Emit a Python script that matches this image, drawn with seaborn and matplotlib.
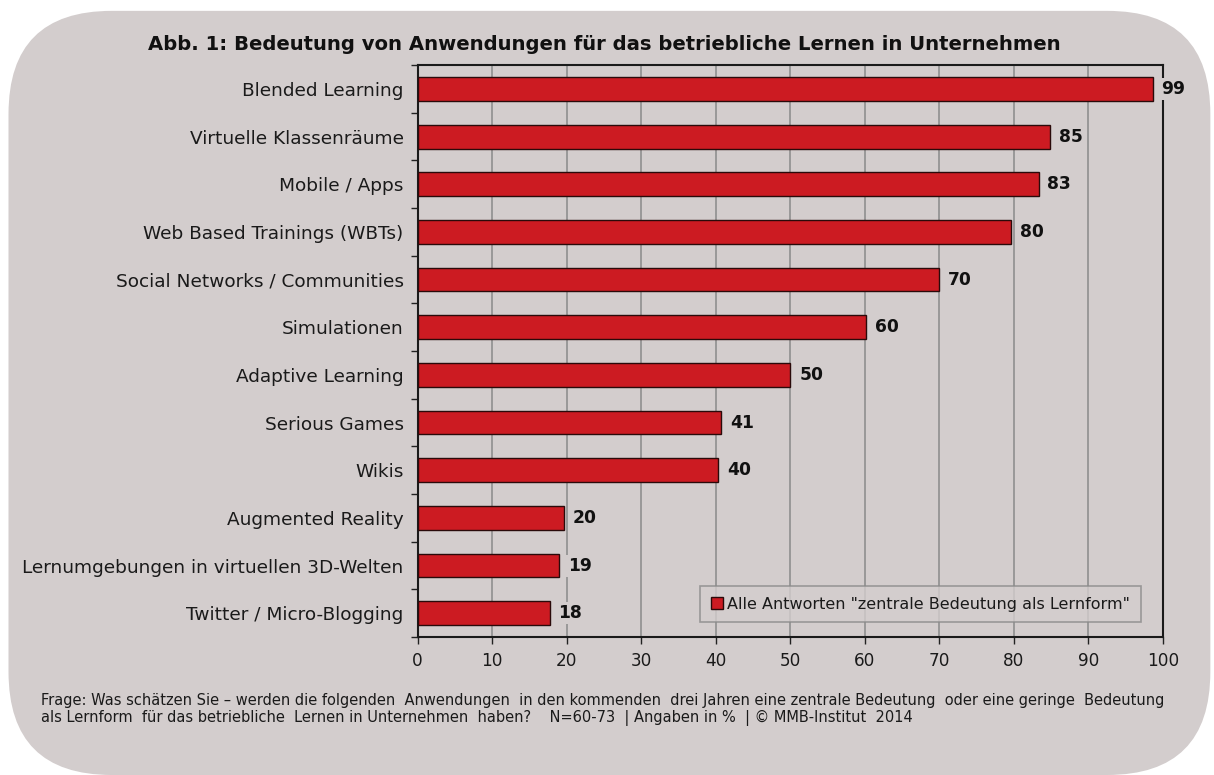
import numpy as np
import pandas as pd
import seaborn as sns
import matplotlib.pyplot as plt
import matplotlib as mpl
from matplotlib.patches import FancyBboxPatch

mpl.use('Agg')

categories = ['Blended Learning', 'Virtuelle Klassenräume', 'Mobile / Apps',
              'Web Based Trainings (WBTs)', 'Social Networks / Communities',
              'Simulationen', 'Adaptive Learning', 'Serious Games', 'Wikis',
              'Augmented Reality', 'Lernumgebungen in virtuellen 3D-Welten',
              'Twitter / Micro-Blogging']
values = [98.6, 84.9, 83.3, 79.6, 70.0, 60.2, 50.0, 40.7, 40.3, 19.6, 19.0, 17.7]
value_labels = ['99', '85', '83', '80', '70', '60', '50', '41', '40', '20', '19', '18']
series_name = 'Alle Antworten "zentrale Bedeutung als Lernform"'
x_ticks = list(range(0, 101, 10))

BG = '#d3cdcd'
RED = '#cc1b22'
FONT = ['DejaVu Sans']

sns.set_style('white')
plt.rcParams['font.family'] = FONT

df = pd.DataFrame({'Anwendung': categories, 'Wert': values})

fig = plt.figure(figsize=(12.14, 7.75), dpi=100)
fig.patch.set_facecolor('white')
# rounded grey panel behind everything
panel = FancyBboxPatch((0.007, 0.0), 0.99, 0.986, boxstyle='round,pad=0,rounding_size=0.085',
                       transform=fig.transFigure, facecolor=BG, edgecolor='none',
                       mutation_aspect=1214 / 775, zorder=-10)
fig.patches.append(panel)

ax = fig.add_axes([0.344, 0.178, 0.614, 0.738])
ax.set_zorder(1)
ax.set_facecolor(BG)

sns.barplot(data=df, x='Wert', y='Anwendung', orient='h', color=RED, width=0.5,
            edgecolor='#2a0a0a', linewidth=1.0, saturation=1, label=series_name, ax=ax,
            zorder=3)

ax.set_xlim(0, 100)
ax.set_ylim(len(categories) - 0.5, -0.5)
ax.set_xticks(x_ticks)
ax.set_xticklabels([str(t) for t in x_ticks], fontsize=12.2, color='#1a1a1a')
ax.set_yticks(range(len(categories)))
ax.set_yticklabels(categories, fontsize=13.3, color='#1a1a1a')
ax.set_yticks(np.arange(-0.5, len(categories), 1), minor=True)
ax.tick_params(axis='y', which='major', length=0, pad=10)
ax.tick_params(axis='y', which='minor', length=5, width=1, color='#222222', direction='out', left=True)
ax.tick_params(axis='x', which='major', length=5, width=1, color='#222222', direction='out', bottom=True, pad=6)
ax.set_xlabel('')
ax.set_ylabel('')
ax.grid(axis='x', color='#8f8f8f', linewidth=1.2, zorder=1)
ax.set_axisbelow(True)
for s in ax.spines.values():
    s.set_visible(True)
    s.set_color('#1a1a1a')
    s.set_linewidth(1.5)

for i, (v, lab) in enumerate(zip(values, value_labels)):
    ax.text(v + 1.2, i, lab, va='center', ha='left', fontsize=12.3, fontweight='bold',
            color='#111111', zorder=5, clip_on=False,
            bbox=dict(facecolor=BG, edgecolor='none', pad=1.5))

leg = ax.legend(loc='lower right', bbox_to_anchor=(0.97, 0.026), borderaxespad=0,
                frameon=True, fancybox=False,
                facecolor=BG, edgecolor='#8a8a8a', handlelength=0.75,
                handleheight=0.75, handletextpad=0.3, borderpad=0.65,
                prop={'family': FONT, 'size': 11.5})
leg.get_frame().set_linewidth(1.2)
leg.set_zorder(6)
for t in leg.get_texts():
    t.set_color('#1a1a1a')

fig.text(0.498, 0.943, 'Abb. 1: Bedeutung von Anwendungen für das betriebliche Lernen in Unternehmen',
         ha='center', va='center', fontsize=14.1, fontweight='bold', color='#111111')

fig.text(0.034, 0.085,
         'Frage: Was schätzen Sie – werden die folgenden  Anwendungen  in den kommenden  drei Jahren eine zentrale Bedeutung  oder eine geringe  Bedeutung\n'
         'als Lernform  für das betriebliche  Lernen in Unternehmen  haben?    N=60-73  | Angaben in %  | © MMB-Institut  2014',
         ha='left', va='center', fontsize=10.5, linespacing=1.15, color='#1a1a1a')

fig.savefig('out.png', dpi=100, facecolor=fig.get_facecolor())
